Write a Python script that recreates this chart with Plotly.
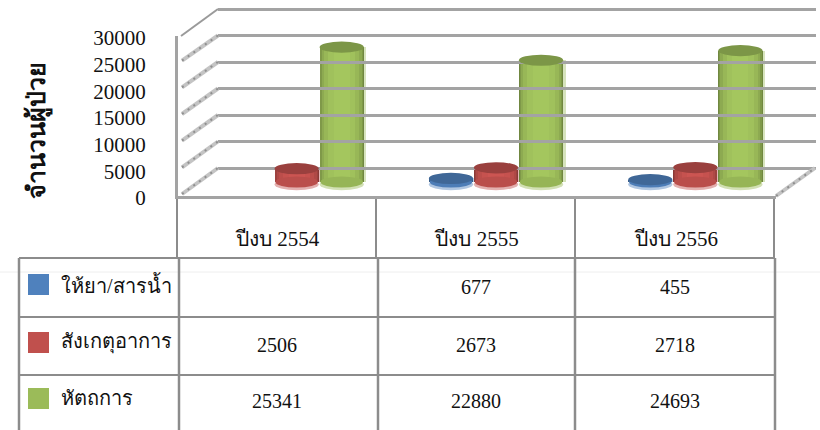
import plotly.graph_objects as go

categories = ["ปีงบ 2554", "ปีงบ 2555", "ปีงบ 2556"]
series_names = ["ให้ยา/สารน้ำ", "สังเกตุอาการ", "หัตถการ"]
fluids = [None, 677, 455]
observe = [2506, 2673, 2718]
procedures = [25341, 22880, 24693]
series_values = [fluids, observe, procedures]
series_colors = ["#4f81bd", "#c0504d", "#9bbb59"]
y_ticks = [0, 5000, 10000, 15000, 20000, 25000, 30000]
axis_title = "<b>จำนวนผู้ป่วย</b>"

W, H = 820, 430
SERIF = "Liberation Serif, Noto Sans, serif"
GRID = "#a3a3a3"
TABLE = "#8c8c8c"
TEXT = "#111111"


def px(x):
    return x / W


def py(y):
    return 1 - y / H


def shade(hex_color, f):
    r, g, b = [int(hex_color[i:i + 2], 16) for i in (1, 3, 5)]
    return "rgb(%d,%d,%d)" % tuple(min(255, round(c * f)) for c in (r, g, b))


def tint(hex_color, t):
    r, g, b = [int(hex_color[i:i + 2], 16) for i in (1, 3, 5)]
    return "rgb(%d,%d,%d)" % tuple(round(c + (255 - c) * t) for c in (r, g, b))


fig = go.Figure()
shapes = []
annotations = []

# Cylinder bars in a mid-depth plane, shaded by overlaid bars of decreasing width
STEP = 0.226
BAR_W = 0.222
LAYERS = [(1.0, 0.72), (0.96, 0.82), (0.90, 0.91), (0.80, 0.98), (0.62, 1.03), (0.36, 1.06)]
ELLIPSE = 1050
for s, (name, vals, col) in enumerate(zip(series_names, series_values, series_colors)):
    xs = [i + (s - 1) * STEP for i in range(len(categories))]
    # soft shadow at the right of each cylinder
    fig.add_trace(go.Bar(
        x=[x + 0.012 for x in xs], y=vals, width=BAR_W, name=name, xaxis="x2", yaxis="y2",
        marker=dict(color=col, line=dict(width=0)), opacity=0.4,
        showlegend=False, hoverinfo="skip",
    ))
    for frac, f in LAYERS:
        fig.add_trace(go.Bar(
            x=xs, y=vals, width=BAR_W * frac, name=name, xaxis="x2", yaxis="y2",
            marker=dict(color=shade(col, f), line=dict(width=0)),
            showlegend=False, hoverinfo="name+y",
        ))
    for x, v in zip(xs, vals):
        if v is None:
            continue
        hw = BAR_W / 2
        # light base rim, body-coloured base curve, dark top cap
        shapes.append(dict(type="circle", xref="x2", yref="y2", layer="below",
                           x0=x - hw, x1=x + hw, y0=-1.45 * ELLIPSE, y1=ELLIPSE * 0.55,
                           fillcolor=tint(col, 0.55), line=dict(width=0)))
        shapes.append(dict(type="circle", xref="x2", yref="y2", layer="above",
                           x0=x - hw * 0.96, x1=x + hw * 0.96, y0=-ELLIPSE, y1=ELLIPSE,
                           fillcolor=shade(col, 0.97), line=dict(width=0)))
        shapes.append(dict(type="circle", xref="x2", yref="y2", layer="above",
                           x0=x - hw, x1=x + hw, y0=v - ELLIPSE, y1=v + ELLIPSE,
                           fillcolor=shade(col, 0.8), line=dict(width=0)))

# Front plane: value axis and category labels
fig.add_trace(go.Scatter(x=[0, 1, 2], y=[0, 0, 0], xaxis="x", yaxis="y", mode="markers",
                         marker=dict(opacity=0), hoverinfo="skip", showlegend=False))
# Back wall: gridlines
fig.add_trace(go.Scatter(x=[0, 1, 2], y=[0, 0, 0], xaxis="x3", yaxis="y3", mode="markers",
                         marker=dict(opacity=0), hoverinfo="skip", showlegend=False))

# Side wall and floor edge
FRONT_X, BACK_X = 180, 218
for t in y_ticks:
    yf = 196 - t * 160 / 30000
    yb = 168 - t * 159 / 30000
    if t == 30000:
        shapes.append(dict(type="line", xref="paper", yref="paper", x0=px(FRONT_X + 1), y0=py(yf),
                           x1=px(BACK_X), y1=py(yb), line=dict(color="#9a9a9a", width=2)))
    else:
        shapes.append(dict(type="line", xref="paper", yref="paper", x0=px(FRONT_X + 2), y0=py(yf - 2),
                           x1=px(BACK_X), y1=py(yb), line=dict(color="#c4c4c4", width=4)))
        shapes.append(dict(type="line", xref="paper", yref="paper", x0=px(FRONT_X + 2), y0=py(yf - 2),
                           x1=px(BACK_X), y1=py(yb), line=dict(color="#8f8f8f", width=2, dash="2px,5px")))
shapes.append(dict(type="line", xref="paper", yref="paper", x0=px(776), y0=py(196), x1=px(815), y1=py(168),
                   line=dict(color="#c4c4c4", width=4)))
shapes.append(dict(type="line", xref="paper", yref="paper", x0=px(776), y0=py(196), x1=px(815), y1=py(168),
                   line=dict(color="#8f8f8f", width=2, dash="2px,5px")))

# Data table
def hline(x0, x1, y, color=TABLE, w=2):
    shapes.append(dict(type="line", xref="paper", yref="paper", x0=px(x0), x1=px(x1), y0=py(y), y1=py(y),
                       line=dict(color=color, width=w), layer="below"))


def vline(x, y0, y1, color=TABLE, w=2):
    shapes.append(dict(type="line", xref="paper", yref="paper", x0=px(x), x1=px(x), y0=py(y0), y1=py(y1),
                       line=dict(color=color, width=w), layer="below"))


hline(0, 820, 272, "#eeeeee", 1)
for x in (177, 376, 575, 774):
    vline(x, 197, 258)
hline(19, 775, 258)
hline(19, 775, 317)
hline(19, 775, 375)
for x in (19, 179, 378, 575, 775):
    vline(x, 258, 430, w=2.5)

COL_X = [277, 476, 675]
ROW_Y = [287, 345, 401]
KEY_Y = [285, 343, 399]
for name, vals, col, ry, ky in zip(series_names, series_values, series_colors, ROW_Y, KEY_Y):
    shapes.append(dict(type="rect", xref="paper", yref="paper", x0=px(28), x1=px(49),
                       y0=py(ky - 11), y1=py(ky + 10), fillcolor=col, line=dict(width=0)))
    annotations.append(dict(text=name, xref="paper", yref="paper", x=px(59), y=py(ky - 1), xanchor="left",
                            yanchor="middle", showarrow=False, font=dict(family=SERIF, size=20, color=TEXT)))
    for cx, v in zip(COL_X, vals):
        if v is not None:
            annotations.append(dict(text=str(v), xref="paper", yref="paper", x=px(cx), y=py(ry),
                                    xanchor="center", yanchor="middle", showarrow=False,
                                    font=dict(family=SERIF, size=20, color=TEXT)))

annotations.append(dict(text=axis_title, xref="paper", yref="paper", x=px(38), y=py(131), textangle=-90,
                        xanchor="center", yanchor="middle", showarrow=False,
                        font=dict(family=SERIF, size=25, color=TEXT)))

fig.update_layout(
    width=W, height=H, margin=dict(l=0, r=0, t=0, b=0, autoexpand=False),
    paper_bgcolor="white", plot_bgcolor="rgba(0,0,0,0)",
    barmode="overlay", bargap=0, showlegend=False,
    shapes=shapes, annotations=annotations,
    xaxis=dict(domain=[px(178), px(776)], range=[-0.5, 2.5], tickmode="array", tickvals=[0, 1, 2],
               ticktext=categories, showgrid=False, zeroline=False, showline=True, linecolor=GRID, linewidth=3,
               ticks="outside", ticklen=22, tickcolor="rgba(0,0,0,0)",
               tickfont=dict(family=SERIF, size=21, color=TEXT), anchor="y"),
    yaxis=dict(domain=[py(196), py(36)], range=[0, 30000], tickmode="array", tickvals=y_ticks,
               tickformat="d", showgrid=False, zeroline=False, showline=True, linecolor=GRID, linewidth=3,
               ticks="outside", ticklen=25, tickcolor="rgba(0,0,0,0)", ticklabelshift=2,
               tickfont=dict(family=SERIF, size=21, color=TEXT), anchor="x"),
    xaxis2=dict(domain=[px(197), px(795)], range=[-0.5, 2.5], visible=False, anchor="y2"),
    yaxis2=dict(domain=[py(198), py(17)], range=[-3000, 31000], visible=False, anchor="x2"),
    xaxis3=dict(domain=[px(218), px(816)], range=[-0.5, 2.5], visible=False, anchor="y3"),
    yaxis3=dict(domain=[py(169.06), py(7.94)], range=[-200, 30200], tickmode="array", tickvals=y_ticks,
                showticklabels=False, showgrid=True, gridcolor=GRID, gridwidth=3, zeroline=False,
                showline=False, anchor="x3"),
)

fig.write_html("out.html", config=dict(displayModeBar=False),
               post_script="document.body.style.margin='0';")
